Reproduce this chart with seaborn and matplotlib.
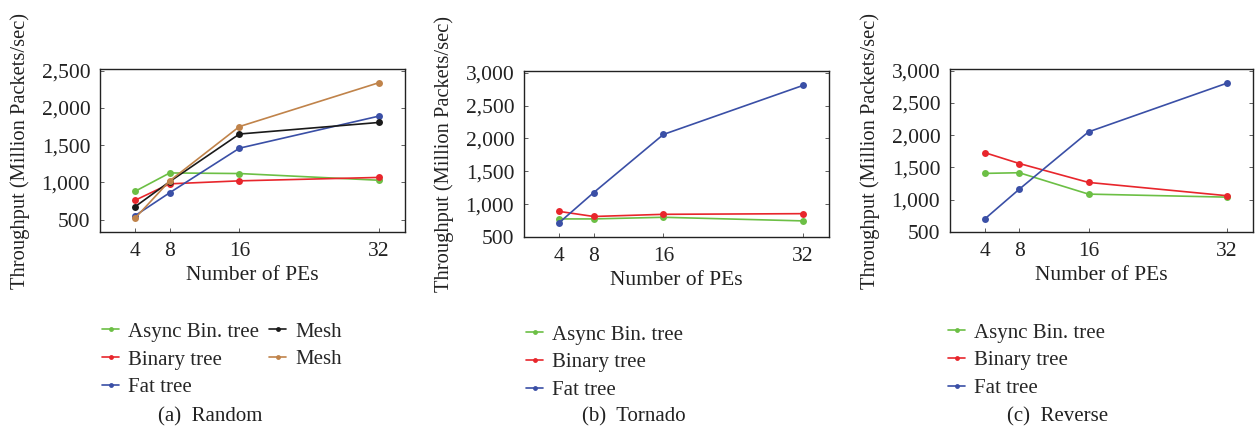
import numpy as np
import matplotlib
matplotlib.use('Agg')
import matplotlib.pyplot as plt
import seaborn as sns

pes = [4, 8, 16, 32]

# (a) Random
rand_async = [880, 1128, 1120, 1030]
rand_binary = [760, 982, 1022, 1068]
rand_fat = [553, 863, 1460, 1890]
rand_mesh_k = [673, 1012, 1650, 1805]
rand_mesh_b = [518, 1022, 1750, 2338]

# (b) Tornado
torn_async = [775, 775, 800, 745]
torn_binary = [890, 812, 845, 855]
torn_fat = [713, 1176, 2060, 2805]

# (c) Reverse
rev_async = [1408, 1418, 1087, 1040]
rev_binary = [1730, 1561, 1268, 1062]
rev_fat = [700, 1163, 2051, 2806]

labels = ["Async Bin. tree", "Binary tree", "Fat tree", "Mesh", "Mesh"]
colors = ["#6cbf45", "#e8262c", "#3a4fa6", "#1a1a1a", "#c0834a"]
captions = ["(a)  Random", "(b)  Tornado", "(c)  Reverse"]

sns.set_style("white")
plt.rcParams['font.family'] = ['Liberation Serif', 'DejaVu Serif']

fig = plt.figure(figsize=(12.58, 4.32), dpi=100)
W, H = 1258, 432
boxes = [(100, 69, 405, 232), (524, 71, 829, 237), (950, 69, 1253, 232)]
panels = [
    [rand_async, rand_binary, rand_fat, rand_mesh_k, rand_mesh_b],
    [torn_async, torn_binary, torn_fat],
    [rev_async, rev_binary, rev_fat],
]
ylims = [(336, 2522), (500, 3025), (500, 3025)]
yticks = [[500, 1000, 1500, 2000, 2500], [500, 1000, 1500, 2000, 2500, 3000],
          [500, 1000, 1500, 2000, 2500, 3000]]
legend_pos = [(102, 322), (526, 325), (948, 323)]
cap_x = [210, 634, 1058]

for i, (l, t, r, b) in enumerate(boxes):
    ax = fig.add_axes([l / W, 1 - b / H, (r - l) / W, (b - t) / H])
    for j, vals in enumerate(panels[i]):
        sns.lineplot(x=pes, y=vals, ax=ax, color=colors[j], marker='o',
                     markersize=5, markeredgewidth=0, linewidth=1.2,
                     label=labels[j])
    ax.set_xlim(0, 35)
    ax.set_ylim(*ylims[i])
    ax.set_xticks(pes)
    ax.set_yticks(yticks[i])
    ax.set_yticklabels([f"{v:,}" for v in yticks[i]])
    ax.tick_params(direction='in', length=3, width=0.6, labelsize=15.5, pad=7,
                   right=True, left=True, bottom=True, top=False, colors='#444444')
    ax.tick_params(labelcolor='#222222')
    for s in ax.spines.values():
        s.set_linewidth(1.0)
        s.set_color('#222222')
    ax.set_xlabel("Number of PEs", fontsize=15.5, color='#222222', labelpad=4)
    ax.set_ylabel("Throughput (Million Packets/sec)", fontsize=14.8,
                  color='#222222', labelpad=8)
    ncol = 2 if i == 0 else 1
    lx, ly = legend_pos[i]
    ax.legend(loc='upper left', bbox_to_anchor=(lx / W, 1 - ly / H),
              bbox_transform=fig.transFigure, ncol=ncol, frameon=False,
              fontsize=15, handlelength=0.82, handletextpad=0.43,
              columnspacing=0.48, labelspacing=0.4, borderpad=0,
              borderaxespad=0, markerscale=0.7)
    fig.text(cap_x[i] / W, 1 - 417 / H, captions[i], ha='center', va='center',
             fontsize=15, color='#222222')

fig.savefig("out.png", dpi=100)
